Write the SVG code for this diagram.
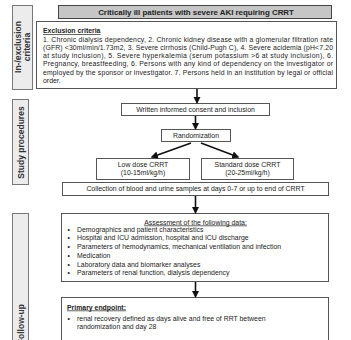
<svg xmlns="http://www.w3.org/2000/svg" width="351" height="340" viewBox="0 0 351 340">
<style>
text{font-family:"Liberation Sans",Arial,sans-serif;fill:#222;}
.t{font-size:6.9px;}
.c{text-anchor:middle;}
.b{font-weight:bold;}
.u{text-decoration:underline;}
.box{fill:#fff;stroke:#555;stroke-width:1;}
.lab{fill:#ececec;stroke:#777;stroke-width:1;}
.lt{font-size:8.5px;font-weight:bold;text-anchor:middle;fill:#333;}
.arr{stroke:#111;stroke-width:1.6;fill:none;marker-end:url(#ah);}
</style>
<defs>
<marker id="ah" viewBox="0 0 10 10" refX="8" refY="5" markerWidth="4.6" markerHeight="4.6" orient="auto" markerUnits="strokeWidth">
<path d="M0,0 L10,5 L0,10 z" fill="#111"/>
</marker>
</defs>

<g id="label-inexclusion">
<rect class="lab" x="12.5" y="5.5" width="20" height="84"/>
<text class="lt" transform="translate(21,47) rotate(-90)">In-/exclusion</text>
<text class="lt" transform="translate(29.5,47) rotate(-90)">criteria</text>
</g>
<g id="label-study">
<rect class="lab" x="12.5" y="99.5" width="16" height="85"/>
<text class="lt" transform="translate(23.8,142.5) rotate(-90)">Study procedures</text>
</g>
<g id="label-followup">
<rect class="lab" x="12.5" y="213.5" width="16" height="140"/>
<text class="lt" style="text-anchor:end" transform="translate(23.8,304) rotate(-90)">Follow-up</text>
</g>

<g id="title">
<rect x="58.5" y="5.5" width="273" height="13" fill="#c6c6c6" stroke="#444"/>
<text class="b c" x="196" y="14.8" style="font-size:7.9px">Critically ill patients with severe AKI requiring CRRT</text>
</g>

<g id="exclusion">
<rect class="box" x="36.5" y="21.5" width="300" height="67"/>
<text class="t b u" x="43" y="33.2">Exclusion criteria</text>
<text class="t" x="43" y="41.5" textLength="290" lengthAdjust="spacing">1. Chronic dialysis dependency, 2. Chronic kidney disease with a glomerular filtration rate</text>
<text class="t" x="43" y="49.8" textLength="290" lengthAdjust="spacing">(GFR) &lt;30ml/min/1.73m2, 3. Severe cirrhosis (Child-Pugh C), 4. Severe acidemia (pH&lt;7.20</text>
<text class="t" x="43" y="58.1" textLength="290" lengthAdjust="spacing">at study inclusion), 5. Severe hyperkalemia (serum potassium &gt;6 at study inclusion), 6.</text>
<text class="t" x="43" y="66.4" textLength="290" lengthAdjust="spacing">Pregnancy, breastfeeding, 6. Persons with any kind of dependency on the investigator or</text>
<text class="t" x="43" y="74.7" textLength="290" lengthAdjust="spacing">employed by the sponsor or investigator. 7. Persons held in an institution by legal or official</text>
<text class="t" x="43" y="83">order.</text>
</g>

<g id="consent">
<rect class="box" x="121.5" y="103.5" width="148" height="12"/>
<text class="t c" x="195.5" y="111.8">Written informed consent and inclusion</text>
</g>

<g id="randomization">
<rect class="box" x="161.5" y="129.5" width="69" height="12"/>
<text class="t c" x="196" y="137.8">Randomization</text>
</g>

<g id="lowdose">
<rect class="box" x="96.5" y="158.5" width="93" height="21"/>
<text class="t c" x="143" y="166.8">Low dose CRRT</text>
<text class="t c" x="143" y="175">(10-15ml/kg/h)</text>
</g>

<g id="standard">
<rect class="box" x="201.5" y="158.5" width="92" height="21"/>
<text class="t c" x="247.5" y="166.8">Standard dose CRRT</text>
<text class="t c" x="247.5" y="175">(20-25ml/kg/h)</text>
</g>

<g id="collection">
<rect class="box" x="62.5" y="182.5" width="266" height="13"/>
<text class="t c" x="195.5" y="191.3">Collection of blood and urine samples at days 0-7 or up to end of CRRT</text>
</g>

<g id="assessment">
<rect class="box" x="61.5" y="213.5" width="267" height="68"/>
<text class="t c u" x="195.5" y="224.5">Assessment of the following data:</text>
<g class="t">
<text x="67.5" y="231.7">•</text><text x="77" y="231.7">Demographics and patient characteristics</text>
<text x="67.5" y="240.4">•</text><text x="77" y="240.4">Hospital and ICU admission, hospital and ICU discharge</text>
<text x="67.5" y="249.1">•</text><text x="77" y="249.1">Parameters of hemodynamics, mechanical ventilation and infection</text>
<text x="67.5" y="257.8">•</text><text x="77" y="257.8">Medication</text>
<text x="67.5" y="266.5">•</text><text x="77" y="266.5">Laboratory data and biomarker analyses</text>
<text x="67.5" y="275.2">•</text><text x="77" y="275.2">Parameters of renal function, dialysis dependency</text>
</g>
</g>

<g id="primary">
<rect class="box" x="61.5" y="297.5" width="267" height="60"/>
<text class="t b u" x="67" y="309.5">Primary endpoint:</text>
<text class="t" x="67.5" y="320.5">•</text>
<text class="t" x="77" y="320.5">renal recovery defined as days alive and free of RRT between</text>
<text class="t" x="77" y="329.2">randomization and day 28</text>
</g>

<g id="connectors">
<line class="arr" x1="197" y1="89" x2="197" y2="102.5"/>
<line class="arr" x1="195.5" y1="116" x2="195.5" y2="128.5"/>
<line class="arr" x1="191" y1="143" x2="152" y2="157"/>
<line class="arr" x1="201" y1="143" x2="238" y2="157"/>
<line class="arr" x1="195.5" y1="196" x2="195.5" y2="212.5"/>
<line class="arr" x1="195.5" y1="282" x2="195.5" y2="296.5"/>
</g>
</svg>
